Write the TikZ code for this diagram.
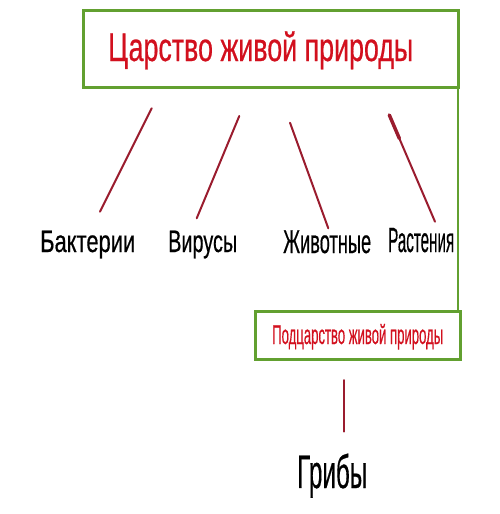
\documentclass[tikz,border=0pt]{standalone}
\usepackage{fontspec}
\setmainfont{Liberation Sans}
\newfontfamily\fb{Liberation Sans}[FakeBold=0.6]
\usepackage{graphicx}
\usetikzlibrary{calc}
\definecolor{kred}{HTML}{D2101E}
\definecolor{kgreen}{HTML}{62A030}
\definecolor{lred}{HTML}{9A1C2E}
\newcommand{\fitw}[3]{\resizebox{#1pt}{\height}{\fontsize{#2}{#2}\fb #3}}
\tikzset{
  box/.style={draw=kgreen, line width=3pt},
  redtxt/.style={text=kred, inner sep=0pt, anchor=base west},
  blacktxt/.style={text=black, inner sep=0pt, anchor=base west},
  link/.style={draw=lred, line width=2pt, line cap=round},
  glink/.style={draw=kgreen, line width=2pt}
}
\begin{document}
\begin{tikzpicture}[x=1pt,y=-1pt]
\useasboundingbox (0,0) rectangle (500,514);
% boxes
\draw[box] (83,10) rectangle (458,87);
\coordinate (topSE) at (458,87);
\draw[box] (255,311) rectangle (460,359);
\coordinate (subNE) at (458,311);
\draw[glink] (topSE) -- (subNE);
% texts
\node[redtxt] (title) at (108,61) {\fitw{305}{40}{Царство живой природы}};
\node[redtxt] (sub) at (272,344) {\fitw{171}{27}{Подцарство живой природы}};
\node[blacktxt] (bak) at (40,252) {\fitw{95}{31}{Бактерии}};
\node[blacktxt] (vir) at (168,252) {\fitw{69}{31}{Вирусы}};
\node[blacktxt] (ziv) at (283,253) {\fitw{88}{33}{Животные}};
\node[blacktxt] (ras) at (388,252) {\fitw{66}{35}{Растения}};
\node[blacktxt] (grib) at (297,488) {\fitw{70}{47}{Грибы}};
% connectors
\coordinate (a1) at (151.7,108.3); \coordinate (b1) at (100,211.7);
\coordinate (a2) at (239.3,116);   \coordinate (b2) at (196.7,218.3);
\coordinate (a3) at (290,122.7);   \coordinate (b3) at (328.3,228.3);
\coordinate (a4) at (389.3,115);   \coordinate (b4) at (435,221.7);
\coordinate (a5) at (343.5,380);   \coordinate (b5) at (343.5,431.7);
\draw[link] (a1) -- (b1);
\draw[link] (a2) -- (b2);
\draw[link] (a3) -- (b3);
\draw[link] (a4) -- (b4);
\draw[link, line width=3.5pt] (a4) -- ($(a4)!0.22!(b4)$);
\draw[link] (a5) -- (b5);
\end{tikzpicture}
\end{document}
